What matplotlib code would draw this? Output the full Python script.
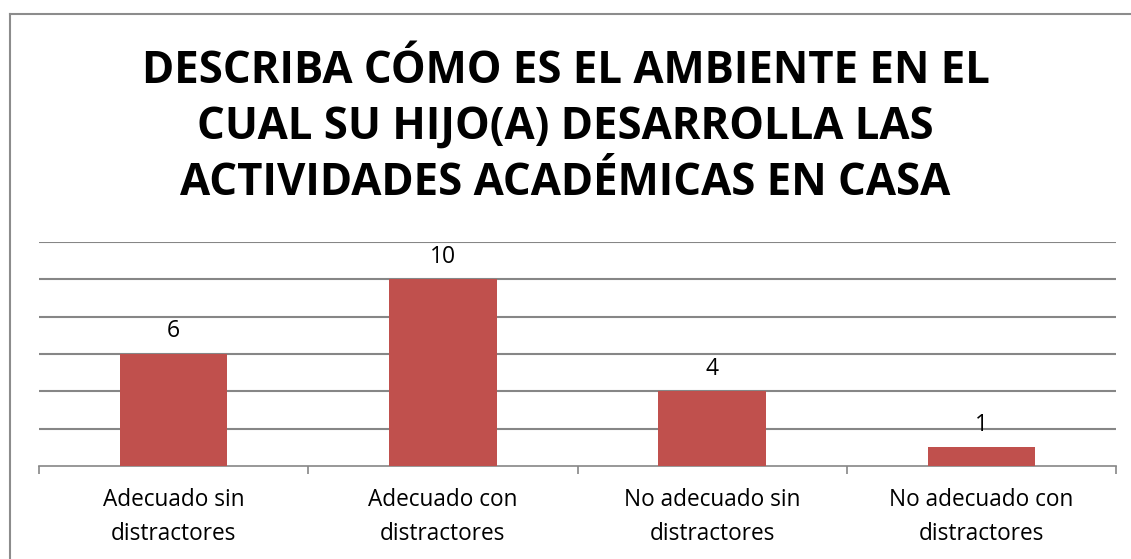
import matplotlib
matplotlib.use("Agg")
import matplotlib.pyplot as plt
from matplotlib.lines import Line2D
from matplotlib.ticker import FixedLocator

plt.rcParams["font.family"] = ["Open Sans", "DejaVu Sans"]

TITLE = "DESCRIBA CÓMO ES EL AMBIENTE EN EL\nCUAL SU HIJO(A) DESARROLLA LAS\nACTIVIDADES ACADÉMICAS EN CASA"
categories = [
    "Adecuado sin\ndistractores",
    "Adecuado con\ndistractores",
    "No adecuado sin\ndistractores",
    "No adecuado con\ndistractores",
]
values = [6, 10, 4, 1]

BAR_COLOR = "#C0504D"
GRID_COLOR = "#868686"

fig = plt.figure(figsize=(11.31, 5.59), dpi=100)
ax = fig.add_axes([39 / 1131, 1 - 466 / 559, (1116 - 39) / 1131, (466 - 242) / 559])

# outer chart frame (only top and left edges are inside the image)
fx, fy = 9.5 / 1131, 1 - 13.5 / 559
for xs, ys in [([fx, 1.0], [fy, fy]), ([fx, fx], [0.0, fy])]:
    fig.lines.append(Line2D(xs, ys, transform=fig.transFigure,
                            color="#8c8c8c", linewidth=1.5))

x = range(len(values))
bars = ax.bar(x, values, width=0.4, color=BAR_COLOR, zorder=3)
for b, v in zip(bars, values):
    ax.text(b.get_x() + b.get_width() / 2, v + 0.9, str(v),
            ha="center", va="baseline", fontsize=16.5)

ax.set_xlim(-0.5, len(values) - 0.5)
ax.set_ylim(0, 12)
ax.set_yticks(range(2, 13, 2))
ax.yaxis.grid(True, color=GRID_COLOR, linewidth=1.5, zorder=0)
ax.tick_params(axis="y", left=False, labelleft=False)

ax.set_xticks(list(x))
ax.set_xticklabels(categories, fontsize=16.3, linespacing=1.55)
ax.tick_params(axis="x", which="major", length=0, pad=16)
ax.xaxis.set_minor_locator(FixedLocator([i - 0.5 for i in range(len(values) + 1)]))
ax.tick_params(axis="x", which="minor", length=6, width=1.2, color=GRID_COLOR)

for s in ["top", "right", "left"]:
    ax.spines[s].set_visible(False)
ax.spines["bottom"].set_color(GRID_COLOR)
ax.spines["bottom"].set_linewidth(1.2)

fig.text(0.5, 1 - 49 / 559, TITLE, ha="center", va="top", fontsize=31.5,
         fontweight="bold", linespacing=1.32)

fig.savefig("out.png", dpi=100)
